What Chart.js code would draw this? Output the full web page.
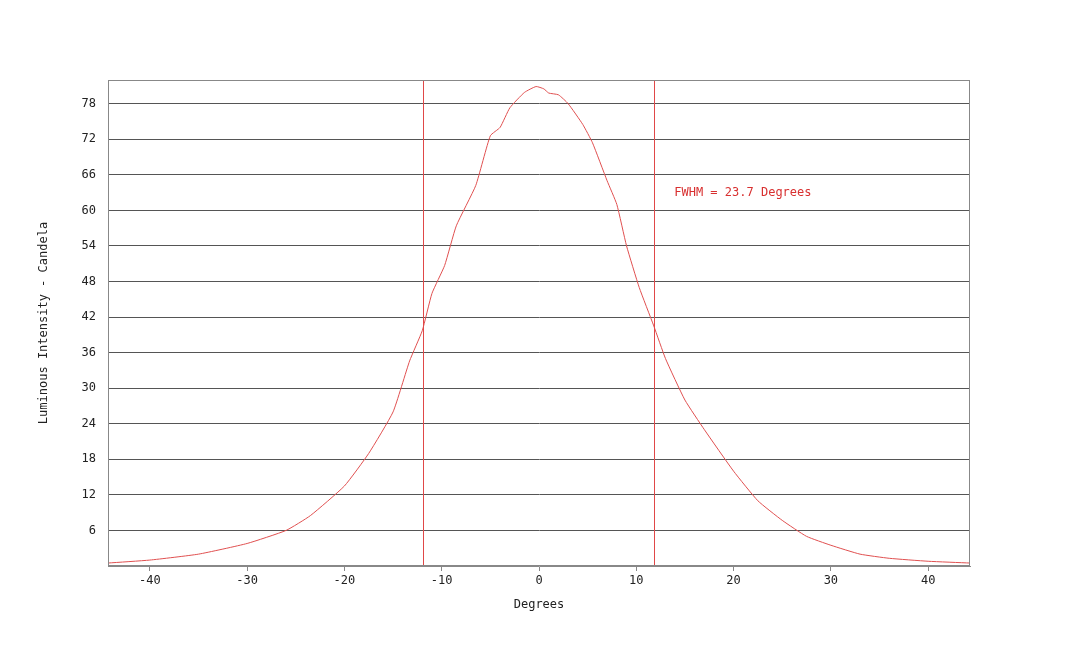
<!DOCTYPE html>
<html>
<head>
<meta charset="utf-8">
<script src="https://cdn.jsdelivr.net/npm/chart.js@4"></script>
<style>
  body { margin: 0; background: #fff; }
  canvas { display: block; }
</style>
</head>
<body>
<canvas id="chart" width="1080" height="646"></canvas>
<script>
// Measured intensity curve (degrees vs candela)
const degrees = [-44.3, -40, -35, -30, -26, -23.5, -20, -17.5, -15, -13.3, -12, -11, -9.7, -8.5, -6.5, -5, -4, -3, -1.5, -0.3, 0.5, 1, 2, 3, 4.5, 5.5, 7, 8, 9, 10.3, 11.8, 13, 15, 17, 20, 22.5, 25, 27.5, 30, 33, 36, 40, 44.3];
const candela = [0.5, 1.0, 2.0, 3.8, 6.0, 8.5, 13.5, 19, 26, 34.6, 39.7, 46, 50.7, 57.4, 64.2, 72.6, 74, 77.3, 79.9, 80.9, 80.5, 79.8, 79.5, 78, 74.5, 71.4, 65, 61, 54, 47, 40.5, 35, 28, 23, 16, 11, 7.7, 5, 3.5, 2, 1.3, 0.8, 0.5];
const xTicks = [-40, -30, -20, -10, 0, 10, 20, 30, 40];
const yTicks = [6, 12, 18, 24, 30, 36, 42, 48, 54, 60, 66, 72, 78];
const fwhmLines = [-11.9, 11.8];
const fwhmLabel = "FWHM = 23.7 Degrees";

const fontFamily = "'DejaVu Sans Mono', monospace";

// Draws the FWHM marker lines and label
const fwhmPlugin = {
  id: "fwhm",
  afterDatasetsDraw(chart) {
    const { ctx, chartArea, scales } = chart;
    ctx.save();
    ctx.strokeStyle = "#e04848";
    ctx.lineWidth = 1;
    fwhmLines.forEach((v) => {
      const px = Math.round(scales.x.getPixelForValue(v)) + 0.5;
      ctx.beginPath();
      ctx.moveTo(px, chartArea.top);
      ctx.lineTo(px, chartArea.bottom);
      ctx.stroke();
    });
    ctx.fillStyle = "#d83030";
    ctx.font = "12px " + fontFamily;
    ctx.textBaseline = "middle";
    ctx.fillText(fwhmLabel, scales.x.getPixelForValue(13.9), scales.y.getPixelForValue(63));
    // plot frame
    ctx.strokeStyle = "#888";
    ctx.strokeRect(chartArea.left + 0.5, chartArea.top + 0.5, chartArea.width - 1, chartArea.height - 1);
    ctx.restore();
  }
};

new Chart(document.getElementById("chart").getContext("2d"), {
  type: "line",
  data: {
    datasets: [{
      data: degrees.map((d, i) => ({ x: d, y: candela[i] })),
      borderColor: "#e05050",
      borderWidth: 1,
      pointRadius: 0,
      tension: 0.15,
      fill: false,
    }],
  },
  options: {
    responsive: false,
    animation: false,
    layout: { padding: { top: 80, right: 110, left: 0, bottom: 34 } },
    plugins: { legend: { display: false }, tooltip: { enabled: false } },
    scales: {
      x: {
        type: "linear",
        min: -44.3,
        max: 44.3,
        afterBuildTicks: (axis) => { axis.ticks = xTicks.map((v) => ({ value: v })); },
        afterFit: (axis) => { axis.height = 46; },
        grid: { drawOnChartArea: false, color: "#888", tickLength: 5 },
        border: { color: "#888" },
        ticks: { color: "#222", font: { family: fontFamily, size: 12 }, padding: 3 },
        title: { display: true, text: "Degrees", color: "#222", font: { family: fontFamily, size: 12 }, padding: { top: 4, bottom: 0 } },
      },
      y: {
        min: 0,
        max: 82,
        afterBuildTicks: (axis) => { axis.ticks = yTicks.map((v) => ({ value: v })); },
        afterFit: (axis) => { axis.width = 108; },
        grid: { color: "#555", lineWidth: 1, drawTicks: false },
        border: { color: "#888" },
        ticks: { color: "#222", font: { family: fontFamily, size: 12 }, padding: 12 },
        title: { display: true, text: "Luminous Intensity - Candela", color: "#222", font: { family: fontFamily, size: 12 }, padding: { bottom: 0, top: 37 } },
      },
    },
  },
  plugins: [fwhmPlugin],
});
</script>
</body>
</html>
